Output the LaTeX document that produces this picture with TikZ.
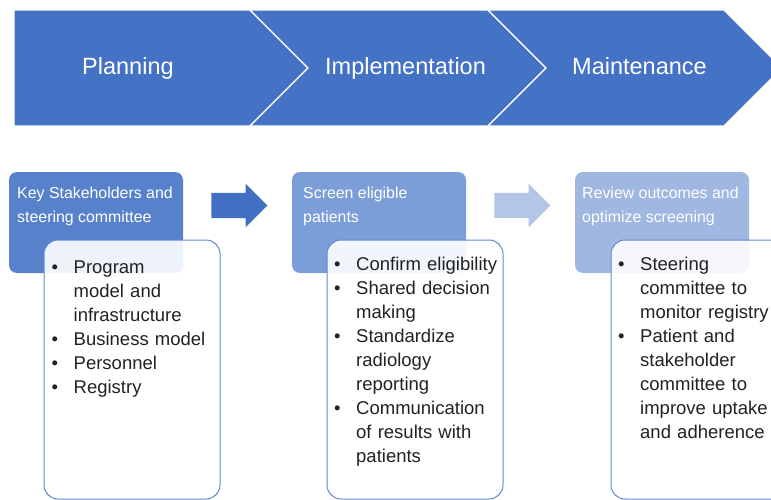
\documentclass[tikz,border=0pt]{standalone}
\usepackage{fontspec}
\setmainfont{Liberation Sans}
\usepackage{enumitem}
\usetikzlibrary{shapes.arrows}

\definecolor{chevblue}{HTML}{4472C4}
\definecolor{headone}{HTML}{5782CB}
\definecolor{headtwo}{HTML}{7C9ED8}
\definecolor{headthree}{HTML}{A0B7E1}
\definecolor{arrowone}{HTML}{416FC2}
\definecolor{arrowtwo}{HTML}{B4C6E6}
\definecolor{boxline}{HTML}{6189D2}
\definecolor{listgray}{HTML}{222222}

\newcommand{\bulletlist}[1]{%
	\begin{itemize}[leftmargin=20pt,labelsep=15.5pt,itemsep=0pt,topsep=0pt,parsep=0pt,partopsep=0pt,label=\textbullet]
	#1
	\end{itemize}}

\begin{document}
\begin{tikzpicture}
	[x=1pt,y=-1pt,
	chevron/.style={fill=chevblue,draw=white,line width=1.2pt},
	phase/.style={text=white,font=\fontsize{23.5}{28}\selectfont,inner sep=0pt,anchor=base west},
	headbox/.style={rounded corners=8pt,minimum width=174pt,minimum height=101pt,inner sep=0pt},
	headtext/.style={text=white,font=\fontsize{15.9}{24}\selectfont,align=left,inner sep=0pt,anchor=base west},
	listbox/.style={draw=boxline,line width=1pt,fill=white,fill opacity=0.9,rounded corners=14pt,minimum width=176pt,minimum height=259pt,inner sep=0pt},
	listtext/.style={text=listgray,font=\fontsize{18.5}{24}\selectfont,text width=200pt,inner sep=0pt,anchor=base west},
	stepper/.style={single arrow,draw=none,inner sep=12.5pt,minimum width=43pt,minimum height=56pt,single arrow head extend=9pt}]
		\clip (0,0) rectangle (771,500);

		% phase band
		\draw[chevron] (14,10) -- (250,10) -- (308,68) -- (250,126) -- (14,126) -- cycle;
		\draw[chevron] (250,10) -- (488,10) -- (546,68) -- (488,126) -- (250,126) -- (308,68) -- cycle;
		\draw[chevron] (488,10) -- (724,10) -- (782,68) -- (724,126) -- (488,126) -- (546,68) -- cycle;
		\node[phase] (plan) at (82,74.5) {Planning};
		\node[phase] (impl) at (325,74.5) {Implementation};
		\node[phase] (maint) at (572,74.5) {Maintenance};

		% headers (text sits on its last line)
		\node[headbox,fill=headone] (h1) at (96,222.5) {};
		\node[headbox,fill=headtwo] (h2) at (379,222.5) {};
		\node[headbox,fill=headthree] (h3) at (662,222.5) {};
		\node[headtext] (t1) at (17,222) {Key Stakeholders and\\steering committee};
		\node[headtext] (t2) at (303,222) {Screen eligible\\patients};
		\node[headtext] (t3) at (582,222) {Review outcomes and\\optimize screening};

		% steps between the headers
		\node[stepper,fill=arrowone] (a1) at (233,205.5) {};
		\node[stepper,fill=arrowtwo] (a2) at (516,205.5) {};

		% lists
		\node[listbox] (b1) at (132,369.5) {};
		\node[listbox] (b2) at (415,369.5) {};
		\node[listbox] (b3) at (699,369.5) {};
		\node[listtext] (l1) at (53.5,249.5) {\bulletlist{
			\item Program\newline model and\newline infrastructure
			\item Business model
			\item Personnel
			\item Registry}};
		\node[listtext] (l2) at (336,246) {\bulletlist{
			\item Confirm eligibility
			\item Shared decision\newline making
			\item Standardize\newline radiology\newline reporting
			\item Communication\newline of results with\newline patients}};
		\node[listtext] (l3) at (620,246) {\bulletlist{
			\item Steering\newline committee to\newline monitor registry
			\item Patient and\newline stakeholder\newline committee to\newline improve uptake\newline and adherence}};
	\end{tikzpicture}
\end{document}
